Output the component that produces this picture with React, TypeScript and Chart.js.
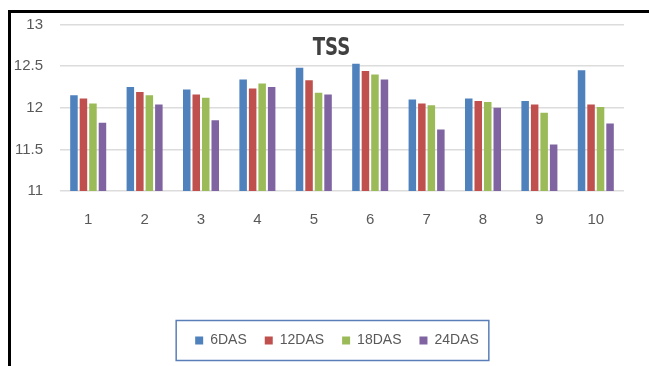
import React, { useEffect, useRef } from "react";
import { Chart, registerables } from "chart.js";

Chart.register(...registerables);

// Sample numbers along the x axis
const categories = ["1", "2", "3", "4", "5", "6", "7", "8", "9", "10"];

// TSS readings per sampling day
const das6 = [12.15, 12.25, 12.22, 12.34, 12.48, 12.53, 12.1, 12.11, 12.08, 12.45];
const das12 = [12.11, 12.19, 12.16, 12.23, 12.33, 12.44, 12.05, 12.08, 12.04, 12.04];
const das18 = [12.05, 12.15, 12.12, 12.29, 12.18, 12.4, 12.03, 12.07, 11.94, 12.01];
const das24 = [11.82, 12.04, 11.85, 12.25, 12.16, 12.34, 11.74, 12.0, 11.56, 11.81];

const seriesNames = ["6DAS", "12DAS", "18DAS", "24DAS"];
const seriesColors = ["#4F81BD", "#C0504D", "#9BBB59", "#8064A2"];

const yMin = 11;
const yMax = 13;
const yStep = 0.5;

const titleText = "TSS";

const tickFont = { family: "'Liberation Sans', Arial, sans-serif", size: 15 };
const textColor = "#595959";

// Chart title drawn over the plot area, in a condensed bold face
const titlePlugin = {
  id: "overlayTitle",
  afterDraw(chart: any) {
    const { ctx, chartArea } = chart;
    const squeeze = 0.84;
    ctx.save();
    ctx.font = "bold 24px 'Liberation Sans Narrow', 'DejaVu Sans Condensed', sans-serif";
    ctx.fillStyle = "#404040";
    ctx.textAlign = "center";
    ctx.textBaseline = "middle";
    ctx.translate(chart.width / 2 + 1.5, chartArea.top + 24.5);
    ctx.scale(squeeze, 1);
    ctx.fillText(titleText, 0, 0);
    ctx.restore();
  },
};

// Legend sits a little right of the canvas centre
const legendShiftPlugin = {
  id: "legendShift",
  afterLayout(chart: any) {
    if (chart.legend) chart.legend.left += 39;
  },
};

// Outline around the legend items
const legendBoxPlugin = {
  id: "legendBox",
  afterDraw(chart: any) {
    const lg = chart.legend;
    if (!lg || !lg.legendHitBoxes || !lg.legendHitBoxes.length) return;
    const hb = lg.legendHitBoxes;
    const first = hb[0];
    const last = hb[hb.length - 1];
    const left = first.left - 19;
    const right = last.left + last.width + 10;
    const cy = first.top + first.height / 2;
    const { ctx } = chart;
    ctx.save();
    ctx.strokeStyle = "#5A7FB8";
    ctx.lineWidth = 1.5;
    ctx.strokeRect(left, cy - 20, right - left, 40);
    ctx.restore();
  },
};

export default function App() {
  const canvasRef = useRef<HTMLCanvasElement | null>(null);

  useEffect(() => {
    if (!canvasRef.current) return;
    const seriesValues = [das6, das12, das18, das24];
    const chart = new Chart(canvasRef.current, {
      type: "bar",
      data: {
        labels: categories,
        datasets: seriesNames.map((name, i) => ({
          label: name,
          data: seriesValues[i],
          backgroundColor: seriesColors[i],
          borderWidth: 0,
          categoryPercentage: 0.674,
          barPercentage: 0.79,
        })),
      },
      options: {
        responsive: false,
        animation: false,
        layout: { padding: { left: 0, right: 25, top: 0, bottom: 8.5 } },
        plugins: {
          title: { display: false },
          tooltip: { enabled: false },
          legend: {
            position: "bottom",
            labels: {
              boxWidth: 8,
              boxHeight: 8,
              padding: 18,
              color: textColor,
              font: { family: tickFont.family, size: 14 },
            },
          },
        },
        scales: {
          x: {
            grid: { display: false, drawTicks: false },
            border: { display: false },
            ticks: { color: textColor, font: tickFont, padding: 20 },
            afterFit(scale: any) {
              scale.height = 124.5;
            },
          },
          y: {
            min: yMin,
            max: yMax,
            grid: { color: "#DCDCDC", lineWidth: 1.5, drawTicks: false },
            border: { display: false },
            ticks: {
              stepSize: yStep,
              color: textColor,
              font: tickFont,
              padding: 17,
              callback: (v: any) => String(Number(v)),
            },
            afterFit(scale: any) {
              scale.width = 49;
              scale.paddingTop = 11.5;
            },
          },
        },
      },
      plugins: [titlePlugin, legendShiftPlugin, legendBoxPlugin],
    });
    return () => chart.destroy();
  }, []);

  return (
    <div
      style={{
        position: "absolute",
        left: 8,
        top: 10,
        width: 641,
        height: 356,
        boxSizing: "border-box",
        borderTop: "3px solid #000",
        borderLeft: "3px solid #000",
        background: "#fff",
      }}
    >
      <canvas ref={canvasRef} width={638} height={353} style={{ display: "block", width: 638, height: 353 }} />
    </div>
  );
}
